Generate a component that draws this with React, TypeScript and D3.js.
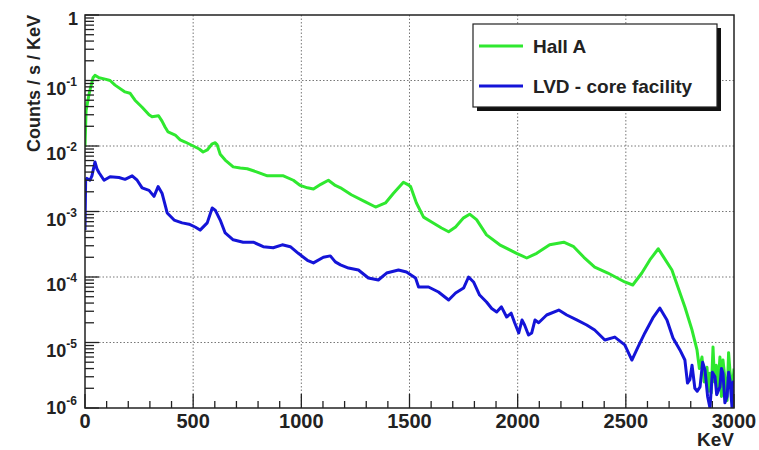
import React from 'react';
import * as d3 from 'd3';

// Hall A spectrum (green)
const hallAKeV = [0, 5, 20, 37, 46, 65, 93, 116, 139, 185, 208, 231, 264, 296, 310, 340, 356, 370, 384, 417, 440, 463, 500, 528, 546, 565, 588, 602, 611, 625, 648, 685, 718, 750, 796, 843, 880, 917, 963, 995, 1028, 1056, 1090, 1125, 1157, 1181, 1231, 1296, 1343, 1389, 1426, 1472, 1490, 1505, 1532, 1565, 1602, 1648, 1681, 1713, 1750, 1778, 1810, 1856, 1917, 1995, 2042, 2088, 2148, 2213, 2259, 2306, 2356, 2417, 2495, 2532, 2574, 2611, 2650, 2671, 2713, 2741, 2773, 2806, 2829, 2840, 2852, 2862, 2875, 2882, 2889, 2895, 2903, 2910, 2918, 2926, 2935, 2942, 2949, 2958, 2968, 2975, 2981, 2991, 3000];
const hallACounts = [0.0097, 0.035, 0.065, 0.11, 0.12, 0.11, 0.105, 0.1, 0.085, 0.067, 0.064, 0.05, 0.039, 0.03, 0.028, 0.029, 0.024, 0.0195, 0.0164, 0.0147, 0.0124, 0.0115, 0.01, 0.009, 0.0081, 0.0087, 0.0108, 0.0112, 0.0104, 0.0075, 0.0061, 0.0048, 0.0046, 0.0045, 0.004, 0.0035, 0.0035, 0.0035, 0.003, 0.0025, 0.0023, 0.0022, 0.0026, 0.003, 0.0025, 0.0023, 0.0018, 0.0014, 0.00117, 0.00135, 0.0019, 0.0028, 0.0026, 0.0024, 0.00135, 0.00082, 0.00069, 0.00056, 0.00049, 0.00058, 0.0008, 0.00091, 0.00075, 0.00044, 0.00031, 0.00023, 0.000195, 0.00023, 0.00031, 0.00034, 0.00029, 0.0002, 0.000142, 0.000115, 0.000084, 0.0000755, 0.000115, 0.000182, 0.00027, 0.00021, 0.000128, 0.00007, 0.0000348, 0.0000155, 0.0000077, 0.000004, 0.000006, 0.0000025, 0.0000042, 0.0000018, 0.0000034, 0.0000017, 0.0000085, 0.0000025, 0.0000045, 0.0000021, 0.000006, 0.0000015, 0.0000054, 0.0000028, 0.0000013, 0.000007, 0.0000038, 0.0000017, 0.000004];

// LVD core facility spectrum (blue)
const lvdKeV = [0, 3, 9, 23, 32, 46, 55, 65, 88, 116, 157, 185, 218, 241, 264, 296, 319, 338, 356, 380, 412, 449, 481, 509, 532, 565, 588, 602, 625, 648, 685, 731, 778, 824, 870, 912, 949, 986, 1028, 1056, 1102, 1134, 1157, 1181, 1218, 1264, 1310, 1356, 1394, 1449, 1486, 1528, 1542, 1588, 1634, 1681, 1713, 1750, 1773, 1796, 1824, 1856, 1880, 1903, 1925, 1949, 1970, 1986, 2005, 2020, 2032, 2050, 2065, 2080, 2097, 2134, 2190, 2227, 2273, 2319, 2356, 2403, 2449, 2495, 2528, 2556, 2588, 2625, 2657, 2690, 2718, 2750, 2773, 2785, 2796, 2806, 2819, 2830, 2843, 2855, 2866, 2878, 2889, 2900, 2912, 2920, 2935, 2942, 2949, 2958, 2968, 2975, 2981, 2991, 2996, 3000];
const lvdCounts = [0.00052, 0.003, 0.0032, 0.003, 0.0035, 0.0057, 0.0045, 0.0039, 0.003, 0.0034, 0.0033, 0.0031, 0.0035, 0.003, 0.0023, 0.0021, 0.0017, 0.0024, 0.0019, 0.00095, 0.00074, 0.00067, 0.00064, 0.00058, 0.00052, 0.00067, 0.00113, 0.00105, 0.00074, 0.00047, 0.00037, 0.00034, 0.00034, 0.00029, 0.00028, 0.00031, 0.00029, 0.00023, 0.00018, 0.000164, 0.0002, 0.00021, 0.00017, 0.000153, 0.000137, 0.000128, 0.0000966, 0.00009, 0.000115, 0.000128, 0.000119, 0.0000966, 0.0000703, 0.0000703, 0.000059, 0.0000446, 0.000057, 0.0000679, 0.0001, 0.000084, 0.000053, 0.0000415, 0.000033, 0.0000292, 0.000035, 0.0000245, 0.000028, 0.00002, 0.000014, 0.000022, 0.0000185, 0.000013, 0.000014, 0.000022, 0.00002, 0.0000263, 0.0000313, 0.0000263, 0.0000221, 0.0000185, 0.0000155, 0.0000109, 0.0000121, 0.0000092, 0.0000054, 0.0000085, 0.000014, 0.0000237, 0.0000336, 0.0000221, 0.0000117, 0.0000077, 0.0000054, 0.0000024, 0.0000027, 0.0000045, 0.000002, 0.0000018, 0.0000021, 0.000005, 0.0000038, 0.0000015, 0.000001, 0.0000035, 0.000003, 0.0000016, 0.0000021, 0.000004, 0.0000034, 0.0000012, 0.0000015, 0.0000035, 0.0000027, 0.000001, 0.0000025, 0.000002];

const xTicks = [0, 500, 1000, 1500, 2000, 2500, 3000];
const yExponents = [0, -1, -2, -3, -4, -5, -6];
const legendLabels = ['Hall A', 'LVD - core facility'];

const W = 759;
const H = 450;
const left = 85, right = 734, top = 15, bottom = 408;
const font = '"Liberation Sans", Arial, sans-serif';
const green = '#2fe82f';
const blue = '#1414d8';

export default function App() {
  const x = d3.scaleLinear().domain([0, 3000]).range([left, right]);
  const y = d3.scaleLog().domain([1e-6, 1]).range([bottom, top]);

  const line = d3.line<[number, number]>()
    .x(d => x(d[0]))
    .y(d => y(Math.max(d[1], 3e-7)));

  const hallA = hallAKeV.map((k, i) => [k, hallACounts[i]] as [number, number]);
  const lvd = lvdKeV.map((k, i) => [k, lvdCounts[i]] as [number, number]);

  const xMinor = d3.range(100, 3000, 100).filter(v => v % 500 !== 0);
  const yMinor: number[] = [];
  for (let e = -6; e < 0; e++) {
    for (let m = 2; m <= 9; m++) yMinor.push(m * Math.pow(10, e));
  }

  const gridStyle = { stroke: '#777', strokeWidth: 1, strokeDasharray: '1.5 2' };

  return (
    <svg width={W} height={H} style={{ position: 'absolute', left: 0, top: 0, background: '#fff' }}
      fontFamily={font} fontWeight="bold">
      <defs>
        <clipPath id="plotClip">
          <rect x={left} y={top} width={right - left} height={bottom - top} />
        </clipPath>
      </defs>

      {/* grid */}
      {xTicks.slice(1, -1).map(t => (
        <line key={'gx' + t} x1={x(t)} x2={x(t)} y1={top} y2={bottom} style={gridStyle} />
      ))}
      {yExponents.slice(1, -1).map(e => (
        <line key={'gy' + e} x1={left} x2={right} y1={y(Math.pow(10, e))} y2={y(Math.pow(10, e))} style={gridStyle} />
      ))}

      {/* spectra */}
      <g clipPath="url(#plotClip)" fill="none" strokeLinejoin="round">
        <path d={line(hallA) || ''} stroke={green} strokeWidth={3} />
        <path d={line(lvd) || ''} stroke={blue} strokeWidth={3} />
      </g>

      {/* ticks */}
      <g stroke="#222" strokeWidth={1.3}>
        {xTicks.map(t => (
          <line key={'xt' + t} x1={x(t)} x2={x(t)} y1={bottom} y2={bottom - 14} />
        ))}
        {xMinor.map(t => (
          <line key={'xm' + t} x1={x(t)} x2={x(t)} y1={bottom} y2={bottom - 7} />
        ))}
        {yExponents.map(e => (
          <line key={'yt' + e} x1={left} x2={left + 14} y1={y(Math.pow(10, e))} y2={y(Math.pow(10, e))} />
        ))}
        {yMinor.map(v => (
          <line key={'ym' + v} x1={left} x2={left + 9} y1={y(v)} y2={y(v)} />
        ))}
      </g>

      {/* frame */}
      <rect x={left} y={top} width={right - left} height={bottom - top} fill="none" stroke="#222" strokeWidth={1.5} />

      {/* x tick labels */}
      {xTicks.map(t => (
        <text key={'xl' + t} x={x(t)} y={428} textAnchor="middle" fontSize={20} fill="#222">{t}</text>
      ))}
      <text x={right} y={446} textAnchor="end" fontSize={19} fill="#222">KeV</text>

      {/* y tick labels */}
      {yExponents.map(e => {
        const ty = y(Math.pow(10, e));
        if (e === 0) {
          return <text key="yl0" x={78} y={ty + 10} textAnchor="end" fontSize={18} fill="#222">1</text>;
        }
        const base = e === -6 ? ty + 6 : ty + 14;
        return (
          <text key={'yl' + e} x={77} y={base} textAnchor="end" fontSize={18} fill="#222">
            10<tspan fontSize={12} dy={-9}>{e}</tspan>
          </text>
        );
      })}
      <text transform={`translate(40, ${top}) rotate(-90)`} textAnchor="end" fontSize={18} fill="#222">
        Counts / s / KeV
      </text>

      {/* legend */}
      <rect x={477} y={28} width={244} height={83} fill="#111" />
      <rect x={473} y={24} width={244} height={83} fill="#fff" stroke="#222" strokeWidth={1.2} />
      {legendLabels.map((lab, i) => {
        const ly = 46 + i * 40;
        return (
          <g key={lab}>
            <line x1={479} x2={523} y1={ly} y2={ly} stroke={i === 0 ? green : blue} strokeWidth={3} />
            <text x={533} y={ly + 6.5} fontSize={19} fill="#222">{lab}</text>
          </g>
        );
      })}
    </svg>
  );
}
